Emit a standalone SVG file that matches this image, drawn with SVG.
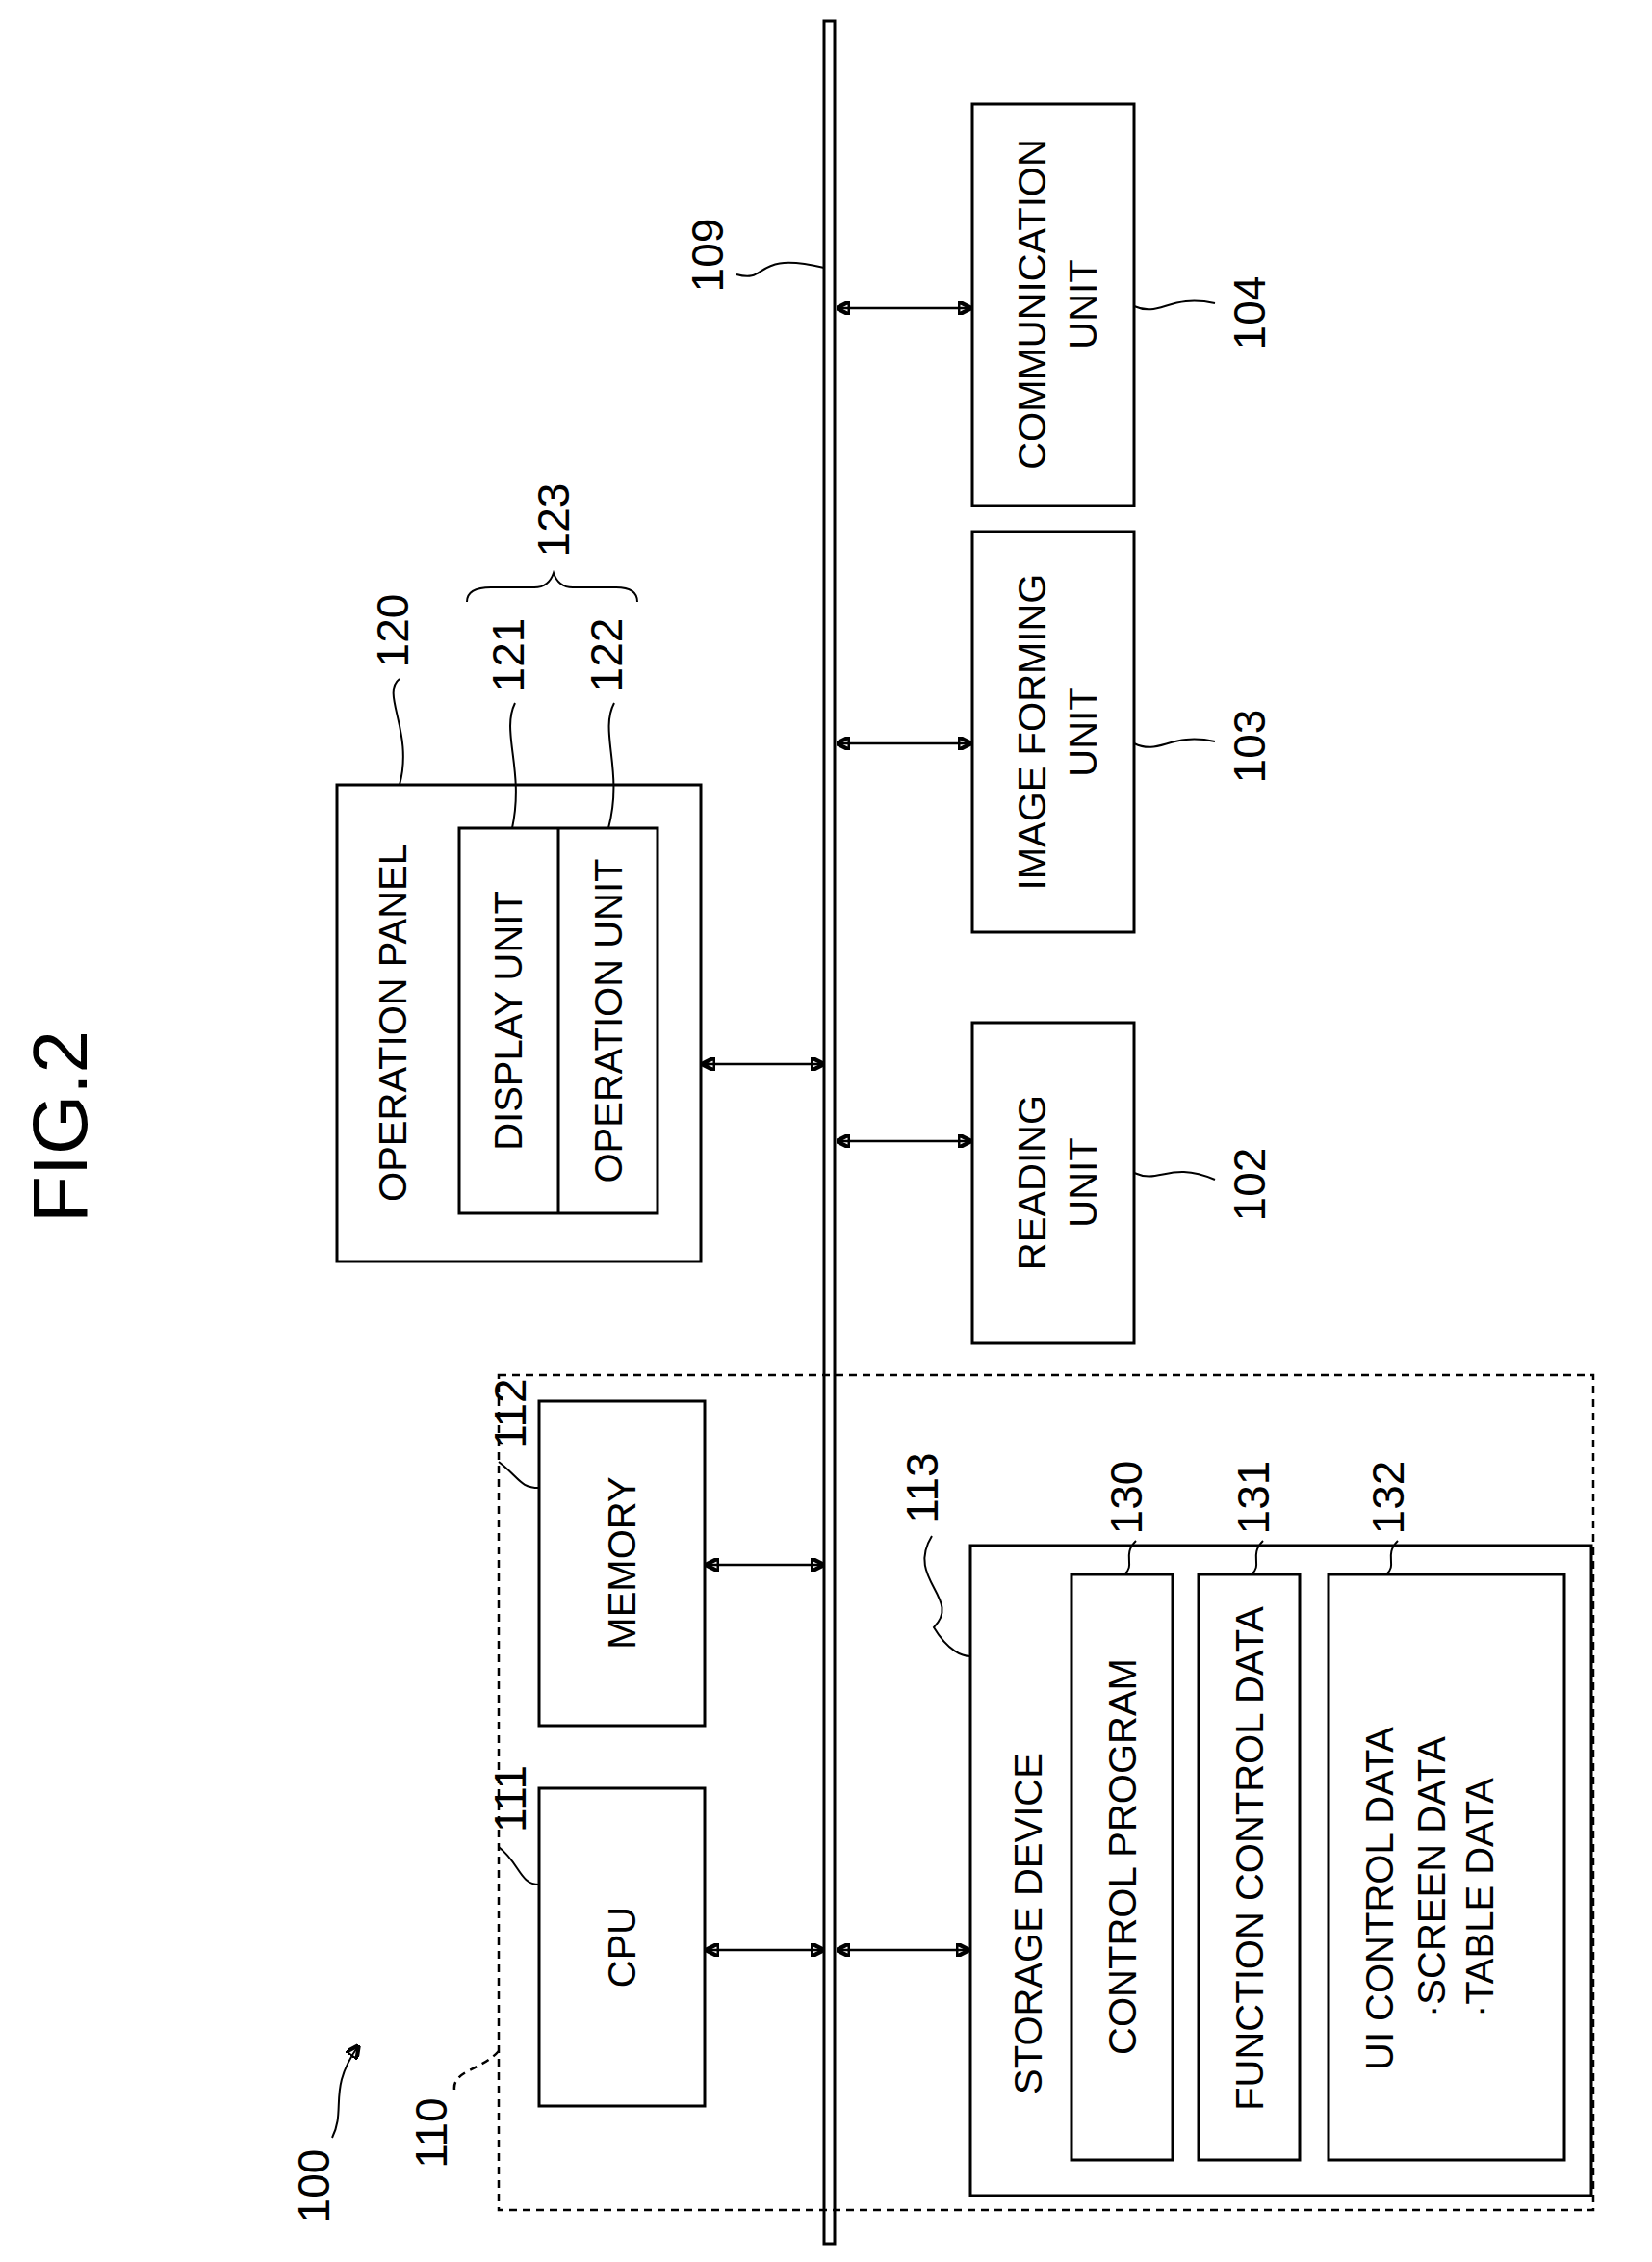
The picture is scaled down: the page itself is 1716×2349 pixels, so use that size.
<svg xmlns="http://www.w3.org/2000/svg" width="1716" height="2349" viewBox="0 0 1716 2349">
<defs>
<marker id="ah" viewBox="0 0 10 10" refX="9" refY="5" markerWidth="14" markerHeight="14" markerUnits="userSpaceOnUse" orient="auto-start-reverse"><path d="M0,0 L10,5 L0,10 Z" fill="#000"/></marker>
</defs>
<style>
rect,path,line{fill:none;stroke:#000;stroke-width:3}
text{font-family:"Liberation Sans",Arial,sans-serif;font-size:40px;fill:#000;dominant-baseline:central}
.c{text-anchor:middle}
.s{text-anchor:start}
.n{font-size:46px}
.a{stroke-width:2.5;marker-start:url(#ah);marker-end:url(#ah)}
.d{stroke-dasharray:8 6;stroke-width:2.5}
.l{stroke-width:2}
</style>
<rect width="1716" height="2349" style="fill:#fff;stroke:none"/>
<text class="c" transform="translate(62,1170) rotate(-90)" style="font-size:80px">FIG.2</text>
<g id="bus"><rect x="856" y="22" width="11" height="2308"/></g>
<g id="n110"><rect class="d" x="518" y="1428" width="1137" height="867"/>
<text class="c n" transform="translate(448,2215) rotate(-90)">110</text>
<path class="d" d="M472,2170 C470,2150 500,2150 518,2130"/></g>
<g id="n100"><text class="c n" transform="translate(326,2270) rotate(-90)">100</text>
<path class="l" d="M345,2220 C360,2190 340,2170 372,2125" marker-end="url(#ah)"/></g>
<g id="n120"><rect x="350" y="815" width="378" height="495"/>
<text class="c" transform="translate(408,1062) rotate(-90)">OPERATION PANEL</text>
<rect x="477" y="860" width="206" height="400"/><line x1="580" y1="860" x2="580" y2="1260"/>
<text class="c" transform="translate(528,1060) rotate(-90)">DISPLAY UNIT</text>
<text class="c" transform="translate(632,1060) rotate(-90)">OPERATION UNIT</text>
<text class="c n" transform="translate(408,655) rotate(-90)">120</text>
<path class="l" d="M415,705 C395,720 430,760 415,815"/>
<text class="c n" transform="translate(528,680) rotate(-90)">121</text>
<path class="l" d="M535,730 C520,760 545,800 532,860"/>
<text class="c n" transform="translate(630,680) rotate(-90)">122</text>
<path class="l" d="M638,730 C622,760 648,800 632,860"/>
<path class="l" d="M485,625 Q485,610 510,610 L555,610 Q570,610 575,595 Q580,610 595,610 L640,610 Q662,610 662,625"/>
<text class="c n" transform="translate(575,540) rotate(-90)">123</text></g>
<g id="n102"><rect x="1010" y="1062" width="168" height="333"/>
<text class="c" transform="translate(1072,1228) rotate(-90)">READING</text>
<text class="c" transform="translate(1125,1228) rotate(-90)">UNIT</text>
<text class="c n" transform="translate(1298,1230) rotate(-90)">102</text>
<path class="l" d="M1178,1218 C1205,1230 1215,1205 1262,1225"/></g>
<g id="n103"><rect x="1010" y="552" width="168" height="416"/>
<text class="c" transform="translate(1072,760) rotate(-90)">IMAGE FORMING</text>
<text class="c" transform="translate(1125,760) rotate(-90)">UNIT</text>
<text class="c n" transform="translate(1298,775) rotate(-90)">103</text>
<path class="l" d="M1178,772 C1205,785 1215,760 1262,770"/></g>
<g id="n104"><rect x="1010" y="108" width="168" height="417"/>
<text class="c" transform="translate(1072,316) rotate(-90)">COMMUNICATION</text>
<text class="c" transform="translate(1125,316) rotate(-90)">UNIT</text>
<text class="c n" transform="translate(1298,325) rotate(-90)">104</text>
<path class="l" d="M1178,318 C1205,330 1215,305 1262,315"/></g>
<g id="n109"><text class="c n" transform="translate(735,265) rotate(-90)">109</text>
<path class="l" d="M765,285 C800,295 780,260 856,278"/></g>
<g id="n111"><rect x="560" y="1857" width="172" height="330"/>
<text class="c" transform="translate(646,2022) rotate(-90)">CPU</text>
<text class="c n" transform="translate(530,1868) rotate(-90)">111</text>
<path class="l" d="M518,1918 C540,1935 540,1957 560,1957"/></g>
<g id="n112"><rect x="560" y="1455" width="172" height="337"/>
<text class="c" transform="translate(646,1623) rotate(-90)">MEMORY</text>
<text class="c n" transform="translate(530,1468) rotate(-90)">112</text>
<path class="l" d="M518,1518 C540,1535 540,1545 560,1545"/></g>
<g id="n113"><rect x="1008" y="1605" width="645" height="675"/>
<text class="s" transform="translate(1068,2175) rotate(-90)">STORAGE DEVICE</text>
<text class="c n" transform="translate(958,1545) rotate(-90)">113</text>
<path class="l" d="M968,1595 C940,1640 1000,1660 970,1690 C985,1715 1000,1720 1008,1720"/>
<rect x="1113" y="1635" width="105" height="608"/>
<text class="c" transform="translate(1166,1928) rotate(-90)">CONTROL PROGRAM</text>
<text class="c n" transform="translate(1170,1555) rotate(-90)">130</text>
<path class="l" d="M1180,1600 C1165,1615 1180,1625 1168,1635"/>
<rect x="1245" y="1635" width="105" height="608"/>
<text class="c" transform="translate(1298,1930) rotate(-90)">FUNCTION CONTROL DATA</text>
<text class="c n" transform="translate(1302,1555) rotate(-90)">131</text>
<path class="l" d="M1312,1600 C1297,1615 1312,1625 1300,1635"/>
<rect x="1380" y="1635" width="245" height="608"/>
<text class="s" transform="translate(1433,2150) rotate(-90)">UI CONTROL DATA</text>
<text class="s" transform="translate(1487,2095) rotate(-90)">·SCREEN DATA</text>
<text class="s" transform="translate(1537,2095) rotate(-90)">·TABLE DATA</text>
<text class="c n" transform="translate(1442,1555) rotate(-90)">132</text>
<path class="l" d="M1452,1600 C1437,1615 1452,1625 1440,1635"/></g>
<g id="connectors">
<line class="a" x1="730" y1="1105" x2="855" y2="1105"/>
<line class="a" x1="870" y1="1185" x2="1008" y2="1185"/>
<line class="a" x1="870" y1="772" x2="1008" y2="772"/>
<line class="a" x1="870" y1="320" x2="1008" y2="320"/>
<line class="a" x1="734" y1="2025" x2="855" y2="2025"/>
<line class="a" x1="734" y1="1625" x2="855" y2="1625"/>
<line class="a" x1="870" y1="2025" x2="1006" y2="2025"/>
</g>
</svg>
